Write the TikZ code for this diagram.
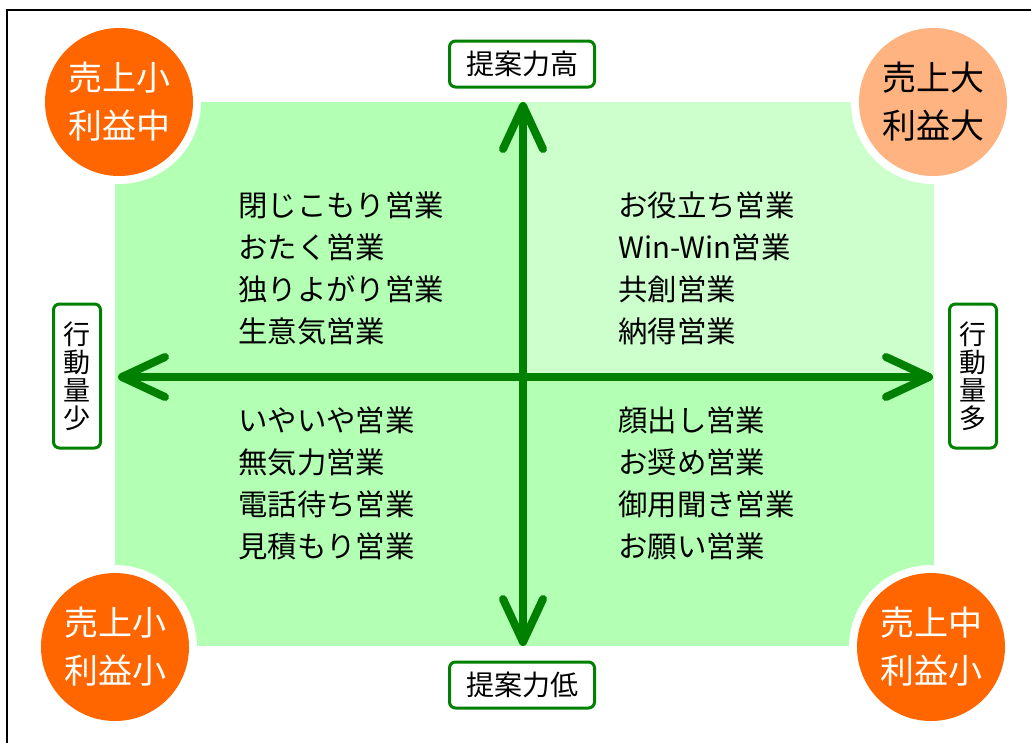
\documentclass[tikz,border=0pt]{standalone}
\usepackage{fontspec}
\setmainfont{Noto Sans CJK JP}
\usetikzlibrary{calc}
\definecolor{qgreen}{RGB}{179,255,179}
\definecolor{qlight}{RGB}{204,255,204}
\definecolor{axisgreen}{RGB}{0,128,0}
\definecolor{dorange}{RGB}{255,102,0}
\definecolor{lorange}{RGB}{255,179,128}
\begin{document}
\begin{tikzpicture}[x=1pt,y=-1pt,
  axisline/.style={draw=axisgreen,line width=8pt},
  headline/.style={draw=axisgreen,line width=8pt,line cap=round,line join=round},
  labelbox/.style={draw=axisgreen,line width=3pt,rounded corners=6pt,fill=white,inner sep=0pt,font=\fontsize{28}{28}\selectfont},
  hlabel/.style={labelbox,minimum width=145pt,minimum height=46pt},
  vlabel/.style={labelbox,minimum width=47pt,minimum height=144pt,align=center,font=\fontsize{27}{28}\selectfont},
  quadtext/.style={anchor=west,align=left,inner sep=0pt,font=\fontsize{29.4}{42}\selectfont},
  ring/.style={circle,fill=white,minimum size=164pt,inner sep=0pt},
  badge/.style={circle,minimum size=148pt,inner sep=0pt,align=center,font=\fontsize{34}{48}\selectfont}
]
\useasboundingbox (0,0) rectangle (1031,742);
\clip (0,0) rectangle (1031,742);
\fill[white] (0,0) rectangle (1031,742);
\draw[black,line width=1.5pt] (7,10) rectangle (1045,760);
% quadrants
\fill[qgreen] (115,102) rectangle (934,646);
\fill[qlight] (523,102) rectangle (934,377);
% rings
\node[ring] at (119,102) {};
\node[ring] at (933,102) {};
\node[ring] at (115,647) {};
\node[ring] at (931,647) {};
% badges
\node[badge,fill=dorange,text=white] (tl) at (119,102) {売上小\\利益中};
\node[badge,fill=lorange,text=black] (tr) at (933,102) {売上大\\利益大};
\node[badge,fill=dorange,text=white] (bl) at (115,647) {売上小\\利益小};
\node[badge,fill=dorange,text=white] (br) at (931,647) {売上中\\利益小};
% axes
\coordinate (top) at (523,106);
\coordinate (bot) at (523,642);
\coordinate (lft) at (122,377);
\coordinate (rgt) at (929,377);
\draw[axisline] (top) -- (bot);
\draw[axisline] (lft) -- (rgt);
\draw[headline] ($(top)+(-20,43)$) -- (top) -- ($(top)+(20,43)$);
\draw[headline] ($(bot)+(-20,-43)$) -- (bot) -- ($(bot)+(20,-43)$);
\draw[headline] ($(lft)+(43,-20)$) -- (lft) -- ($(lft)+(43,20)$);
\draw[headline] ($(rgt)+(-43,-20)$) -- (rgt) -- ($(rgt)+(-43,20)$);
% axis labels
\node[hlabel] (hi) at (522,64) {提案力高};
\node[hlabel] (lo) at (522,685) {提案力低};
\node[vlabel] (few) at (77,376) {行\\動\\量\\少};
\node[vlabel] (many) at (973,376) {行\\動\\量\\多};
% quadrant texts
\node[quadtext] (q1) at (238,268) {閉じこもり営業\\おたく営業\\独りよがり営業\\生意気営業};
\node[quadtext] (q2) at (618,268) {お役立ち営業\\Win-Win営業\\共創営業\\納得営業};
\node[quadtext] (q3) at (238,483) {いやいや営業\\無気力営業\\電話待ち営業\\見積もり営業};
\node[quadtext] (q4) at (618,483) {顔出し営業\\お奨め営業\\御用聞き営業\\お願い営業};
\end{tikzpicture}
\end{document}
